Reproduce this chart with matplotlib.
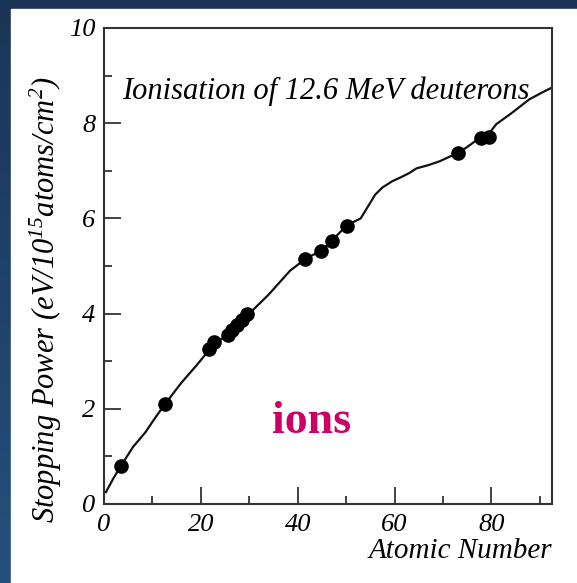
import numpy as np
import matplotlib
matplotlib.use("Agg")
import matplotlib.pyplot as plt
from matplotlib.patches import Rectangle
from matplotlib.ticker import MultipleLocator

plt.rcParams['font.family'] = ['Liberation Serif', 'DejaVu Serif']
plt.rcParams['mathtext.fontset'] = 'custom'
plt.rcParams['mathtext.rm'] = 'Liberation Serif:italic'
plt.rcParams['mathtext.it'] = 'Liberation Serif:italic'
plt.rcParams['mathtext.default'] = 'rm'

# measured points (atomic number, stopping power)
z_points = [3.5, 12.6, 21.7, 22.8, 25.5, 26.5, 27.5, 28.5, 29.5,
            41.6, 44.9, 47.0, 50.1, 73.0, 77.8, 79.5]
s_points = [0.80, 2.10, 3.25, 3.40, 3.55, 3.65, 3.76, 3.87, 3.99,
            5.15, 5.32, 5.53, 5.84, 7.37, 7.68, 7.71]

# theory curve
z_curve = [0.4, 2, 3.5, 6, 8.5, 10.5, 12.6, 16, 19, 22, 24, 26, 28, 30,
           34, 38.4, 41.6, 45, 47, 50, 52, 53, 54.5, 56, 57.5, 59.5, 61,
           63, 64.5, 67, 69.3, 71, 73, 75, 77, 79, 81, 84, 87.8, 90, 92.5]
s_curve = [0.25, 0.55, 0.8, 1.2, 1.5, 1.8, 2.1, 2.55, 2.9, 3.27, 3.45, 3.6,
           3.8, 4.0, 4.4, 4.9, 5.15, 5.33, 5.53, 5.84, 5.95, 6.0, 6.25, 6.5,
           6.65, 6.78, 6.85, 6.95, 7.05, 7.12, 7.2, 7.28, 7.37, 7.5, 7.65,
           7.72, 7.98, 8.2, 8.5, 8.62, 8.75]

W, H = 577, 583
fig = plt.figure(figsize=(W / 100, H / 100), dpi=100)

# slide background: blue gradient with white panel
bg = fig.add_axes([0, 0, 1, 1])
grad = np.linspace(0, 1, 256).reshape(-1, 1)
top_c = np.array([0x1c, 0x35, 0x56]) / 255
bot_c = np.array([0x25, 0x50, 0x7c]) / 255
img = top_c + grad[..., None] * (bot_c - top_c)
bg.imshow(img, aspect='auto', extent=[0, 1, 0, 1], origin='upper')
bg.add_patch(Rectangle((11 / W, 0), 1 - 11 / W, 1 - 9 / H,
                       transform=bg.transAxes, color='white'))
bg.set_axis_off()

ax = fig.add_axes([104 / W, 1 - 504 / H, (552 - 104) / W, (504 - 28) / H])
ax.plot(z_curve, s_curve, color='#111111', lw=1.6)
ax.plot(z_points, s_points, 'o', color='black', ms=9.5)

ax.set_xlim(0, 92.5)
ax.set_ylim(0, 10)
ax.xaxis.set_major_locator(MultipleLocator(20))
ax.xaxis.set_minor_locator(MultipleLocator(10))
ax.yaxis.set_major_locator(MultipleLocator(2))
ax.yaxis.set_minor_locator(MultipleLocator(1))
ax.tick_params(which='both', direction='in', color='#333333', width=1.3,
               top=False, right=False)
ax.tick_params(which='major', length=12, labelsize=19)
ax.tick_params(axis='x', which='major', pad=7)
ax.tick_params(axis='y', which='major', pad=6)
ax.tick_params(which='minor', length=6)
for lab in ax.get_xticklabels() + ax.get_yticklabels():
    lab.set_fontstyle('italic')
for sp in ax.spines.values():
    sp.set_color('#333333')
    sp.set_linewidth(1.5)

ax.set_xlabel('Atomic Number', loc='right', fontsize=21, style='italic',
              labelpad=2)
ax.set_ylabel('Stopping Power (eV/10$^{15}$atoms/cm$^{2}$)', fontsize=22,
              style='italic')
ax.yaxis.set_label_coords(-0.09, 0.43)

ax.text(3.7, 8.68, 'Ionisation of 12.6 MeV deuterons', fontsize=22,
        style='italic', ha='left', va='center')
ax.text(42.9, 1.72, 'ions', fontsize=33, fontweight='bold', color='#cc0066',
        ha='center', va='center')

fig.savefig('out.png', dpi=100)
